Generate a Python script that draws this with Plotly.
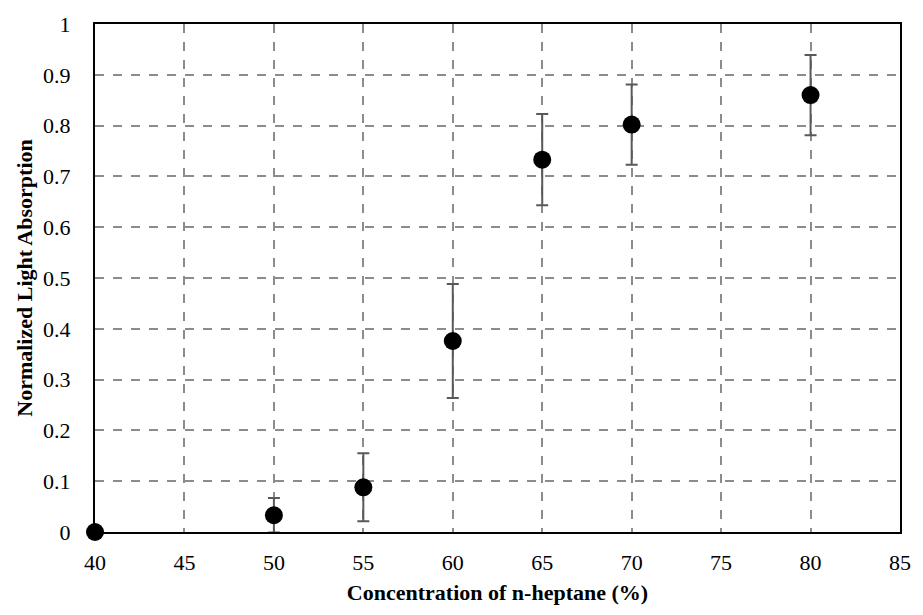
import plotly.graph_objects as go

concentration = [40, 50, 55, 60, 65, 70, 80]
absorption = [0.0, 0.033, 0.088, 0.376, 0.733, 0.802, 0.860]
error = [0.0, 0.034, 0.067, 0.112, 0.090, 0.079, 0.079]

x_ticks = [40, 45, 50, 55, 60, 65, 70, 75, 80, 85]
y_ticks = [0, 0.1, 0.2, 0.3, 0.4, 0.5, 0.6, 0.7, 0.8, 0.9, 1]
y_tick_text = ["0", "0.1", "0.2", "0.3", "0.4", "0.5", "0.6", "0.7", "0.8", "0.9", "1"]

fig = go.Figure()
fig.add_trace(go.Scatter(
    x=concentration, y=absorption, mode="markers",
    marker=dict(size=18, color="black"),
    error_y=dict(type="data", array=error, visible=True, color="#595959", thickness=2, width=6),
    cliponaxis=False, showlegend=False,
))

font = "Liberation Serif, Times New Roman, serif"
fig.update_layout(
    width=923, height=615,
    margin=dict(l=95, r=16, t=19, b=83),
    paper_bgcolor="white", plot_bgcolor="white",
    font=dict(family=font, size=22, color="black"),
    xaxis=dict(
        range=[40, 85], tickvals=x_ticks, ticks="", showline=True, linecolor="black", linewidth=2,
        mirror=True, showgrid=True, gridcolor="#8c8c8c", griddash="dash", gridwidth=1.5,
        zeroline=False, tickfont=dict(size=22), ticklabelstandoff=10,
        title=dict(text="<b>Concentration of n-heptane (%)</b>", font=dict(size=22), standoff=10),
    ),
    yaxis=dict(
        range=[0, 1], tickvals=y_ticks, ticktext=y_tick_text, ticks="", showline=True, linecolor="black",
        linewidth=2, mirror=True, showgrid=True, gridcolor="#8c8c8c", griddash="dash", gridwidth=1.5,
        zeroline=False, tickfont=dict(size=22), ticklabelstandoff=18,
        title=dict(text="<b>Normalized Light Absorption</b>", font=dict(size=22), standoff=4),
    ),
)

fig.write_html("out.html")
